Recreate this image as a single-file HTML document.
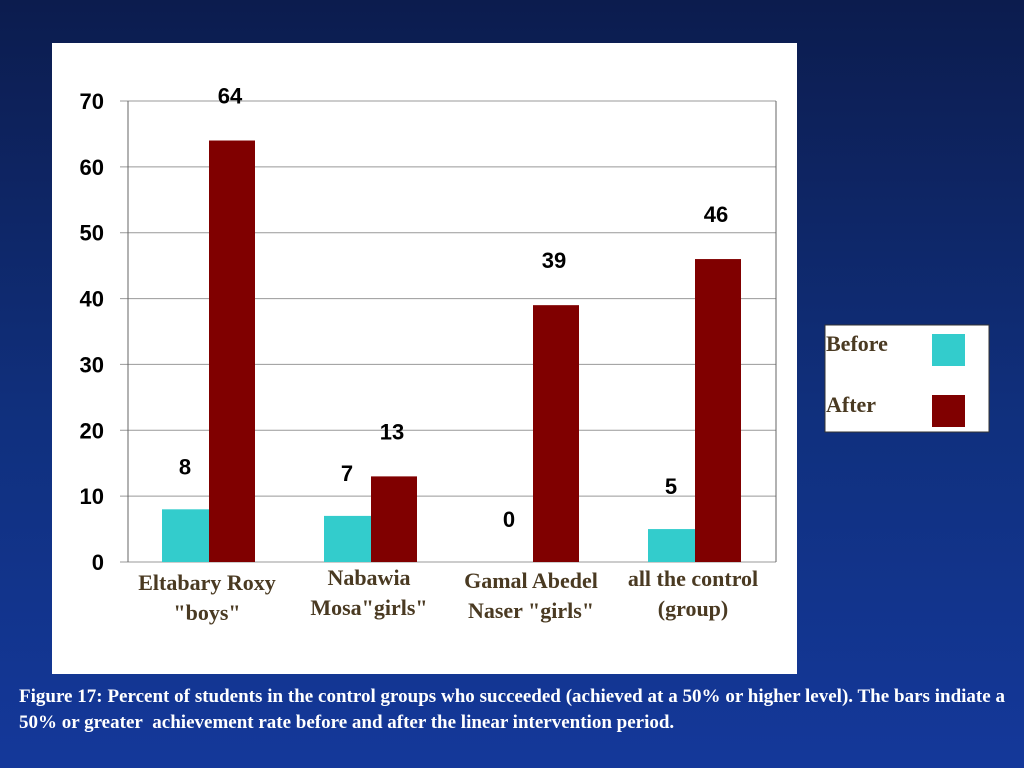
<!DOCTYPE html>
<html><head><meta charset="utf-8"><style>
body{margin:0;width:1024px;height:768px;overflow:hidden;background:linear-gradient(#0c1c4e 0%,#10307e 55%,#14389a 100%);font-family:"Liberation Sans",sans-serif;}
#panel{position:absolute;left:52px;top:43px;width:745px;height:631px;background:#fff;}
#cap{position:absolute;left:19px;top:684px;width:986px;color:#fff;font-family:"Liberation Serif",serif;font-weight:bold;font-size:19px;line-height:26px;text-align:justify;}
</style></head><body>
<div id="panel"></div>
<svg id="chart" width="1024" height="768" style="position:absolute;left:0;top:0"></svg>
<div id="cap">Figure 17: Percent of students in the control groups who succeeded (achieved at a 50% or higher level). The bars indiate a 50% or greater&nbsp; achievement rate before and after the linear intervention period.</div>
<script>
const categories=[['Eltabary Roxy','"boys"'],['Nabawia','Mosa"girls"'],['Gamal Abedel','Naser "girls"'],['all the control','(group)']];
const beforeVals=[8,7,0,5];
const afterVals=[64,13,39,46];
const ticks=[0,10,20,30,40,50,60,70];
const NS='http://www.w3.org/2000/svg';
const svg=document.getElementById('chart');
const X0=128,X1=776,Y0=562,Y1=101,MAX=70;
const y=v=>Y0-(Y0-Y1)*v/MAX;
const gw=(X1-X0)/categories.length;
const cx=i=>X0+gw*(i+0.5);
function mk(t,a){const e=document.createElementNS(NS,t);for(const k in a)e.setAttribute(k,a[k]);svg.appendChild(e);return e;}
ticks.forEach(t=>{
 const g=mk('line',{x1:120,x2:X1,y1:y(t),y2:y(t),stroke:'#999','stroke-width':1});
 
 
 const l=mk('text',{x:104,y:y(t)+8,'text-anchor':'end','font-size':22,'font-weight':'bold',fill:'#000'});
 l.textContent=t;
 
 
});
const ax=mk('line',{x1:X0,x2:X0,y1:Y1,y2:Y0,stroke:'#666'});


const rb=mk('line',{x1:X1,x2:X1,y1:Y1,y2:Y0,stroke:'#666'});


categories.forEach((c,i)=>{
 const c0=cx(i);
 const b=mk('rect',{x:c0-47,y:y(beforeVals[i]),width:47,height:Y0-y(beforeVals[i]),fill:'#33cccc'});
 
 
 const a=mk('rect',{x:c0,y:y(afterVals[i]),width:46,height:Y0-y(afterVals[i]),fill:'#800000'});
 
 
 const lb=mk('text',{x:c0-24,y:y(beforeVals[i])-35,'text-anchor':'middle','font-size':22,'font-weight':'bold'});
 lb.textContent=beforeVals[i];
 
 
 const la=mk('text',{x:c0+21,y:y(afterVals[i])-37,'text-anchor':'middle','font-size':22,'font-weight':'bold'});
 la.textContent=afterVals[i];
 
 
 const oy=[590,585,588,586][i];
 c.forEach((s,k)=>{
  const t=mk('text',{x:c0-2,y:oy+k*30,'text-anchor':'middle','font-size':22,'font-weight':'bold',fill:'#4a3a22','font-family':'Liberation Serif,serif'});
  t.textContent=s;
  
  
 });
});
const lg=mk('rect',{x:825,y:325,width:164,height:107,fill:'#fff',stroke:'#333'});


[['Before','#33cccc',351],['After','#800000',412]].forEach(([n,col,yy])=>{
 const t=mk('text',{x:826,y:yy,'font-size':22,'font-weight':'bold',fill:'#4a3a22','font-family':'Liberation Serif,serif'});
 t.textContent=n;
 
 
 const s=mk('rect',{x:932,y:yy-17,width:33,height:32,fill:col});
 
 
});
</script>
</body></html>
